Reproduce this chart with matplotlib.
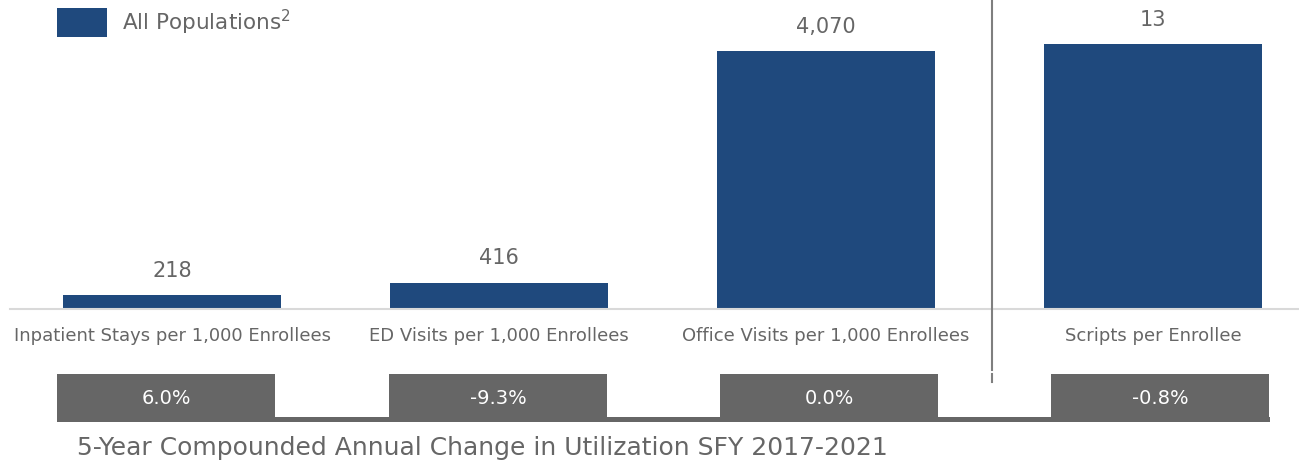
import matplotlib
matplotlib.use("Agg")
import matplotlib.pyplot as plt
from matplotlib.patches import Rectangle
import matplotlib.transforms as mtransforms

plt.rcParams['font.family'] = ['DejaVu Sans']
plt.rcParams['mathtext.default'] = 'regular'

# data
categories = ['Inpatient Stays per 1,000 Enrollees', 'ED Visits per 1,000 Enrollees',
              'Office Visits per 1,000 Enrollees', 'Scripts per Enrollee']
per_1000 = [218, 416, 4070]
scripts = [13]
cagr = ['6.0%', '-9.3%', '0.0%', '-0.8%']
legend_label = 'All Populations$^2$'
caption = '5-Year Compounded Annual Change in Utilization SFY 2017-2021'

W, H = 1299, 466
blue = '#1F497D'
grey_txt = '#666666'
box_grey = '#666666'

fig = plt.figure(figsize=(W / 100, H / 100), dpi=100)

# main bar axes: baseline at y=309px, top of figure at 0px
base_px = 309
ax = fig.add_axes([0, (H - base_px) / H, 1, base_px / H])
ax.set_xlim(-172 / 327, (W - 172) / 327)
ax.set_ylim(0, 4070 * base_px / 258)
x = list(range(len(categories)))
bars = ax.bar(x[:3], per_1000, width=218 / 327, color=blue)

# scripts per enrollee on its own scale
ax2 = ax.twinx()
ax2.set_ylim(0, 13 * base_px / 265)
bars2 = ax2.bar(x[3:], scripts, width=218 / 327, color=blue)

for a in (ax, ax2):
    a.axis('off')

# value labels
for a, bs, vals in ((ax, bars, per_1000), (ax2, bars2, scripts)):
    for b, v in zip(bs, vals):
        a.annotate(f'{v:,}', (b.get_x() + b.get_width() / 2, b.get_height()),
                   xytext=(0, 17.5), textcoords='offset points', ha='center', va='center',
                   fontsize=15, color=grey_txt)

# baseline
fig.add_artist(plt.Line2D([10 / W, 1], [(H - base_px) / H] * 2, color='#D9D9D9', lw=1.5))

# category labels
trans = mtransforms.blended_transform_factory(ax.transData, fig.transFigure)
for i, c in enumerate(categories):
    ax.text(i, (H - 336) / H, c, transform=trans, ha='center', va='center',
            fontsize=13, color=grey_txt, clip_on=False)

# divider
fig.add_artist(plt.Line2D([992 / W] * 2, [1, (H - 370) / H], color='#7F7F7F', lw=1.5))
fig.add_artist(plt.Line2D([992 / W] * 2, [(H - 374) / H, (H - 382) / H], color='#7F7F7F', lw=1.5))

# grey boxes with growth rates
box_left = [57, 389, 720, 1051]
box_w = 218
fig.add_artist(Rectangle((57 / W, (H - 422) / H), (1270 - 57) / W, 5 / H,
                         transform=fig.transFigure, color=box_grey, lw=0))
for l, t in zip(box_left, cagr):
    fig.add_artist(Rectangle((l / W, (H - 422) / H), box_w / W, 48 / H,
                             transform=fig.transFigure, color=box_grey, lw=0))
    fig.text((l + box_w / 2) / W, (H - 398) / H, t, ha='center', va='center',
             fontsize=14, color='white')

# caption
fig.text(77 / W, (H - 448) / H, caption, ha='left', va='center', fontsize=18, color=grey_txt)

# legend
fig.add_artist(Rectangle((57 / W, (H - 37) / H), 50 / W, 29 / H,
                         transform=fig.transFigure, color=blue, lw=0))
fig.text(122 / W, (H - 22) / H, legend_label, ha='left', va='center', fontsize=15.5, color=grey_txt)

fig.savefig('out.png', dpi=100)
